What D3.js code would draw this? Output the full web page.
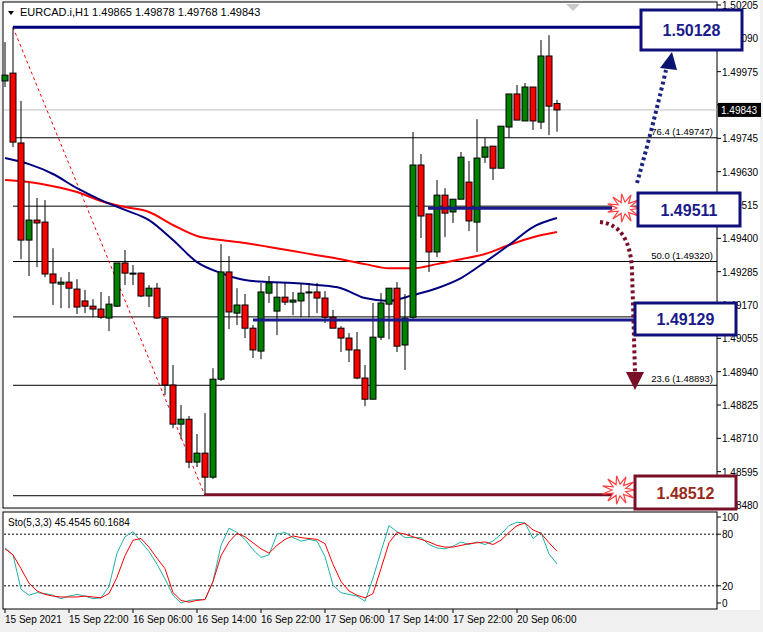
<!DOCTYPE html>
<html>
<head>
<meta charset="utf-8">
<script src="https://cdn.jsdelivr.net/npm/d3@7"></script>
<style>
  body { margin: 0; background: #f0f0f0; }
  svg { display: block; font-family: "Liberation Sans", Arial, sans-serif; }
</style>
</head>
<body>
<svg id="chart" width="763" height="632"></svg>
<script>
// candles: [open, high, low, close]
const candles = [
  [1.49943,1.50077,1.49922,1.49963],[1.49970,1.50128,1.49715,1.49732],[1.49729,1.49874,1.49328,1.49394],
  [1.49394,1.49591,1.49270,1.49463],[1.49463,1.49539,1.49301,1.49453],[1.49456,1.49532,1.49266,1.49277],
  [1.49277,1.49366,1.49170,1.49246],[1.49242,1.49266,1.49159,1.49249],[1.49249,1.49284,1.49159,1.49228],
  [1.49225,1.49259,1.49139,1.49163],[1.49184,1.49222,1.49142,1.49166],[1.49166,1.49190,1.49128,1.49156],
  [1.49156,1.49215,1.49122,1.49128],[1.49125,1.49201,1.49080,1.49173],[1.49166,1.49315,1.49163,1.49315],
  [1.49315,1.49360,1.49239,1.49280],[1.49280,1.49308,1.49239,1.49279],[1.49280,1.49282,1.49197,1.49201],
  [1.49201,1.49239,1.49163,1.49228],[1.49228,1.49246,1.49122,1.49125],[1.49125,1.49128,1.48859,1.48894],
  [1.48894,1.48963,1.48745,1.48759],[1.48759,1.48825,1.48707,1.48776],[1.48776,1.48787,1.48607,1.48628],
  [1.48628,1.48725,1.48611,1.48659],[1.48659,1.48797,1.48512,1.48576],[1.48576,1.48952,1.48570,1.48914],
  [1.48914,1.49380,1.48908,1.49284],[1.49284,1.49339,1.49087,1.49146],[1.49142,1.49228,1.49101,1.49170],
  [1.49170,1.49208,1.49056,1.49090],[1.49090,1.49101,1.48987,1.49015],[1.49011,1.49246,1.48983,1.49215],
  [1.49211,1.49270,1.49177,1.49246],[1.49149,1.49246,1.49066,1.49197],[1.49197,1.49246,1.49170,1.49180],
  [1.49180,1.49215,1.49135,1.49187],[1.49184,1.49246,1.49128,1.49211],[1.49215,1.49246,1.49128,1.49214],
  [1.49215,1.49246,1.49142,1.49194],[1.49194,1.49218,1.49108,1.49128],[1.49128,1.49153,1.49125,1.49090],
  [1.49090,1.49097,1.49008,1.49056],[1.49056,1.49073,1.48973,1.49015],[1.49015,1.49077,1.48914,1.48918],
  [1.48918,1.48963,1.48821,1.48845],[1.48845,1.49177,1.48845,1.49059],[1.49059,1.49211,1.49049,1.49177],
  [1.49173,1.49228,1.49052,1.49228],[1.49228,1.49249,1.49008,1.49028],[1.49032,1.49208,1.48946,1.49125],
  [1.49128,1.49767,1.49118,1.49653],[1.49653,1.49691,1.49401,1.49477],[1.49484,1.49484,1.49284,1.49353],
  [1.49353,1.49601,1.49335,1.49549],[1.49549,1.49573,1.49404,1.49487],[1.49491,1.49535,1.49453,1.49535],
  [1.49535,1.49698,1.49535,1.49680],[1.49594,1.49667,1.49425,1.49460],[1.49456,1.49811,1.49353,1.49677],
  [1.49680,1.49746,1.49660,1.49715],[1.49718,1.49718,1.49601,1.49642],[1.49642,1.49787,1.49642,1.49787],
  [1.49784,1.49898,1.49746,1.49898],[1.49898,1.49929,1.49808,1.49808],[1.49805,1.49936,1.49805,1.49922],
  [1.49922,1.49922,1.49774,1.49805],[1.49801,1.50084,1.49777,1.50029],[1.50029,1.50101,1.49756,1.49856],
  [1.49865,1.49878,1.49768,1.49843]
];
// moving averages read every 3 candles
const maIdx = [0,3,6,9,12,15,18,21,24,27,30,33,36,39,42,45,48,51,54,57,60,63,66,69];
const maBlue = [1.49677,1.49656,1.49622,1.49573,1.49532,1.49498,1.49463,1.49394,1.49318,1.49280,1.49256,1.49249,
  1.49246,1.49239,1.49228,1.49194,1.49184,1.49204,1.49228,1.49263,1.49318,1.49377,1.49439,1.49470];
const maRed = [1.49601,1.49594,1.49580,1.49560,1.49529,1.49508,1.49491,1.49446,1.49408,1.49394,1.49384,1.49370,
  1.49356,1.49342,1.49328,1.49311,1.49297,1.49297,1.49311,1.49328,1.49346,1.49377,1.49404,1.49422];
const stoK = [64,56,16,9,12,11,9,5,8,10,8,5,6,19,58,77,83,71,60,45,28,9,0,3,4,4,25,67,87,82,74,62,53,56,80,82,76,72,74,72,
  54,21,12,10,8,2,29,60,90,83,76,76,76,68,64,63,66,71,68,71,68,72,80,90,94,93,75,82,57,45.45];
const stoD = [63,56,40,23,14,10,8,7,7,7,8,7,6,11,30,55,73,75,65,52,40,12,3,1,3,4,25,55,71,81,77,70,63,58,67,74,78,76,75,74,
  69,45,25,14,9,6,11,40,70,82,80,77,74,71,67,65,65,67,69,70,71,68,73,82,90,93,85,81,70,60.17];
const priceTicks = [1.50205,1.50090,1.49975,1.49860,1.49745,1.49630,1.49515,1.49400,1.49285,1.49170,1.49055,1.48940,1.48825,1.48710,1.48595,1.48480];
const timeLabels = ["15 Sep 2021","15 Sep 22:00","16 Sep 06:00","16 Sep 14:00","16 Sep 22:00","17 Sep 06:00","17 Sep 14:00","17 Sep 22:00","20 Sep 06:00"];
const fibLevels = [
  {pct:"76.4", v:1.49747}, {pct:"61.8", v:1.49511}, {pct:"50.0", v:1.49320}, {pct:"38.2", v:1.49129}, {pct:"23.6", v:1.48893}
];
const fibHigh = 1.50128, fibLow = 1.48512;
const lastPrice = 1.49843;

const svg = d3.select("#chart");
const x = d3.scaleLinear().domain([0, 1]).range([5, 13]);
const y = d3.scaleLinear().domain([1.48480, 1.50205]).range([505, 5]);
const ys = d3.scaleLinear().domain([0, 100]).range([603, 517]);
const plotR = 717;

// panels
svg.append("rect").attr("x", 3).attr("y", 2).attr("width", plotR - 3).attr("height", 506).attr("fill", "#fff").attr("stroke", "#000");
svg.append("rect").attr("x", 3).attr("y", 512).attr("width", plotR - 3).attr("height", 97).attr("fill", "#fff").attr("stroke", "#000");
svg.append("rect").attr("x", plotR + 1).attr("y", 0).attr("width", 42).attr("height", 610).attr("fill", "#fff");
svg.append("path").attr("d", "M566,4 L580,4 L573,11 Z").attr("fill", "#c8c8c8");

const main = svg.append("g");

// current price line
main.append("line").attr("x1", 4).attr("x2", plotR).attr("y1", y(lastPrice)).attr("y2", y(lastPrice)).attr("stroke", "#c0c0c0");

// fib levels
fibLevels.forEach(f => {
  main.append("line").attr("x1", 13).attr("x2", plotR).attr("y1", y(f.v)).attr("y2", y(f.v)).attr("stroke", "#000");
  if (["76.4", "50.0", "23.6"].includes(f.pct))
    main.append("text").attr("x", 713).attr("y", y(f.v) - 3).attr("text-anchor", "end")
      .attr("font-size", 9.5).text(`${f.pct} (${f.v.toFixed(5)})`);
});
main.append("line").attr("x1", 13).attr("x2", 205).attr("y1", y(fibLow)).attr("y2", y(fibLow)).attr("stroke", "#000");
main.append("line").attr("x1", x(1)).attr("x2", x(25)).attr("y1", y(fibHigh)).attr("y2", y(fibLow))
  .attr("stroke", "red").attr("stroke-dasharray", "3,3");

// MAs
const maLine = d3.line().x((d, i) => x(maIdx[i])).y(d => y(d)).curve(d3.curveMonotoneX);
main.append("path").datum(maRed).attr("d", maLine).attr("fill", "none").attr("stroke", "#ff0000").attr("stroke-width", 2);
main.append("path").datum(maBlue).attr("d", maLine).attr("fill", "none").attr("stroke", "#000080").attr("stroke-width", 2);

// candles
const cg = main.selectAll(".c").data(candles).join("g");
cg.append("line").attr("x1", (d, i) => x(i)).attr("x2", (d, i) => x(i))
  .attr("y1", d => y(d[1])).attr("y2", d => y(d[2])).attr("stroke", "#000");
cg.append("rect").attr("x", (d, i) => x(i) - 3).attr("width", 6)
  .attr("y", d => y(Math.max(d[0], d[3])))
  .attr("height", d => Math.max(1, Math.abs(y(d[0]) - y(d[3]))))
  .attr("fill", d => d[3] >= d[0] ? "#008000" : "#ff0000").attr("stroke", "#000");

// thick level lines
main.append("line").attr("x1", 13).attr("x2", 641).attr("y1", y(fibHigh)).attr("y2", y(fibHigh)).attr("stroke", "#00007a").attr("stroke-width", 3);
main.append("line").attr("x1", 428).attr("x2", 612).attr("y1", y(1.49511) + 2).attr("y2", y(1.49511) + 2).attr("stroke", "#1a1a8a").attr("stroke-width", 3);
main.append("line").attr("x1", 253).attr("x2", 636).attr("y1", y(1.49129) + 3).attr("y2", y(1.49129) + 3).attr("stroke", "#1a1a8a").attr("stroke-width", 3);
main.append("line").attr("x1", 205).attr("x2", 612).attr("y1", y(fibLow) - 1).attr("y2", y(fibLow) - 1).attr("stroke", "#7a1028").attr("stroke-width", 3);

// price axis (the tick under the current-price tag is hidden, as in the terminal)
const ax = svg.append("g");
priceTicks.forEach(p => {
  ax.append("line").attr("x1", plotR).attr("x2", plotR + 4).attr("y1", y(p)).attr("y2", y(p)).attr("stroke", "#000");
  if (Math.abs(y(p) - y(lastPrice)) > 8)
    ax.append("text").attr("x", plotR + 5).attr("y", y(p) + 4).attr("font-size", 10).text(p.toFixed(5));
});
ax.append("rect").attr("x", plotR + 1).attr("y", y(lastPrice) - 7).attr("width", 43).attr("height", 14).attr("fill", "#000");
ax.append("text").attr("x", plotR + 4).attr("y", y(lastPrice) + 4).attr("font-size", 10).attr("fill", "#fff").text(lastPrice.toFixed(5));

// header
svg.append("path").attr("d", "M8,11 L14,11 L11,15 Z").attr("fill", "#000");
svg.append("text").attr("x", 20).attr("y", 16).attr("font-size", 11).text("EURCAD.i,H1  1.49865 1.49878 1.49768 1.49843");

// arrows
function dotted(path, color) {
  svg.append("path").attr("d", path).attr("fill", "none").attr("stroke", color).attr("stroke-width", 4).attr("stroke-dasharray", "3,3");
}
dotted("M637,183 Q652,130 666,70", "#1a237e");
svg.append("path").attr("d", "M660,68 L677,70 L672,52 Z").attr("fill", "#0a1470");
dotted("M600,222 Q630,225 632,270 L635,372", "#7a1028");
svg.append("path").attr("d", "M626,372 L644,372 L635,390 Z").attr("fill", "#7a1028");

// starbursts
function burst(cx, cy) {
  const pts = d3.range(22).map(k => {
    const a = k / 22 * Math.PI * 2, r = k % 2 ? 7 : 17;
    return [cx + r * Math.cos(a), cy + r * Math.sin(a) * 0.85];
  });
  svg.append("path").attr("d", d3.line()(pts) + "Z").attr("fill", "#fff").attr("stroke", "#ff4040").attr("stroke-width", 1.2);
}
burst(624, 208);
burst(619, 490);

// label boxes
const boxes = [
  {v:"1.50128", x:641, y:10, w:101, h:40, c:"#10107a", t:"#1a1a8a"},
  {v:"1.49511", x:638, y:193, w:102, h:33, c:"#10107a", t:"#1a1a8a"},
  {v:"1.49129", x:635, y:303, w:101, h:32, c:"#10107a", t:"#1a1a8a"},
  {v:"1.48512", x:635, y:476, w:101, h:33, c:"#7a1028", t:"#9a2a1a"}
];
boxes.forEach(b => {
  svg.append("rect").attr("x", b.x).attr("y", b.y).attr("width", b.w).attr("height", b.h)
    .attr("fill", "#fff").attr("stroke", b.c).attr("stroke-width", 3);
  svg.append("text").attr("x", b.x + b.w / 2).attr("y", b.y + b.h / 2 + 6).attr("text-anchor", "middle")
    .attr("font-size", 16).attr("font-weight", "bold").attr("fill", b.t).text(b.v);
});

// stochastic
const sg = svg.append("g");
[80, 20].forEach(v => sg.append("line").attr("x1", 4).attr("x2", plotR).attr("y1", ys(v)).attr("y2", ys(v))
  .attr("stroke", "#000").attr("stroke-dasharray", "2,2"));
[100, 80, 20, 0].forEach(v => {
  sg.append("line").attr("x1", plotR).attr("x2", plotR + 4).attr("y1", ys(v)).attr("y2", ys(v)).attr("stroke", "#000");
  sg.append("text").attr("x", plotR + 5).attr("y", ys(v) + 4).attr("font-size", 10).text(v);
});
const sLine = d3.line().x((d, i) => x(i)).y(d => ys(d));
sg.append("path").datum(stoK).attr("d", sLine).attr("fill", "none").attr("stroke", "#20b2aa");
sg.append("path").datum(stoD).attr("d", sLine).attr("fill", "none").attr("stroke", "#ff0000");
sg.append("text").attr("x", 8).attr("y", 526).attr("font-size", 10).text("Sto(5,3,3) 45.4545 60.1684");

// time axis
timeLabels.forEach((t, k) => {
  const xx = x(k * 8);
  svg.append("line").attr("x1", xx).attr("x2", xx).attr("y1", 609).attr("y2", 613).attr("stroke", "#000");
  svg.append("text").attr("x", xx).attr("y", 623).attr("font-size", 10).text(t);
});
</script>
</body>
</html>
